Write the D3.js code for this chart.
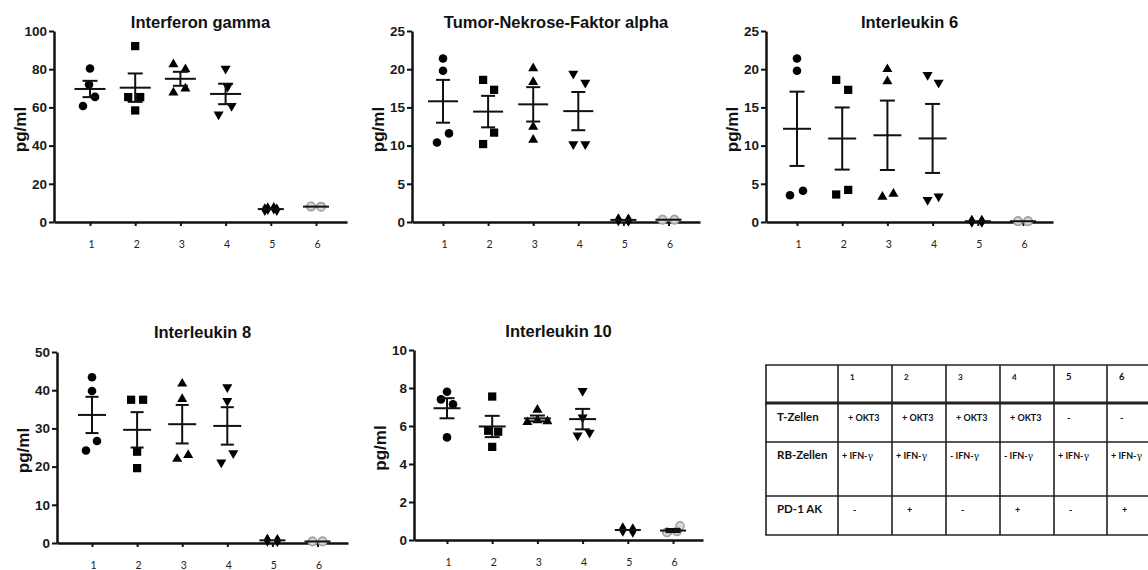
<!DOCTYPE html>
<html>
<head>
<meta charset="utf-8">
<script src="https://cdn.jsdelivr.net/npm/d3@7"></script>
<style>
  body { margin: 0; background: #fff; }
  svg { display: block; }
</style>
</head>
<body>
<script>
// ---------------- DATA ----------------
const categories = ["1", "2", "3", "4", "5", "6"];

const ifnGamma = [[80.4, 72, 65.5, 60.7], [92.1, 65.4, 65.4, 58.4], [82.5, 79.9, 67.7, 69.8], [80.3, 70.8, 60.8, 56.3], [6.5, 7.0, 7.2, 6.4], [8.0, 8.2, 8.1, 7.9]];
const tnfAlpha = [[21.4, 19.8, 11.6, 10.4], [18.6, 17.3, 11.7, 10.2], [20.1, 18.3, 12.45, 10.75], [19.4, 18.25, 10.2, 10.2], [0.3, 0.3, 0.25, 0.25], [0.3, 0.3, 0.3, 0.3]];
const il6 = [[21.4, 19.8, 3.5, 4.1], [18.6, 17.3, 3.6, 4.2], [20, 18.4, 3.3, 3.7], [19.25, 18.25, 2.9, 3.35], [0.1, 0.1, 0.1, 0.1], [0.1, 0.1, 0.1, 0.1]];
const il8 = [[43.4, 39.8, 26.7, 24.2], [37.5, 37.5, 23.9, 19.6], [41.7, 37.7, 22, 23], [40.8, 37.2, 21.1, 23.5], [0.7, 0.8, 0.6, 0.7], [0.4, 0.4, 0.4, 0.4]];
const il10 = [[7.8, 7.4, 7.14, 5.4], [7.55, 5.75, 5.7, 4.9], [6.85, 6.2, 6.3, 6.25], [7.85, 6.45, 5.5, 5.65], [0.5, 0.6, 0.45, 0.55], [0.4, 0.4, 0.74, 0.45]];

const ticksIfn = [0, 20, 40, 60, 80, 100];
const ticksTnf = [0, 5, 10, 15, 20, 25];
const ticksIl6 = [0, 5, 10, 15, 20, 25];
const ticksIl8 = [0, 10, 20, 30, 40, 50];
const ticksIl10 = [0, 2, 4, 6, 8, 10];

const titles = ["Interferon gamma", "Tumor-Nekrose-Faktor alpha", "Interleukin 6", "Interleukin 8", "Interleukin 10"];
const yLabel = "pg/ml";

const tableCols = ["1", "2", "3", "4", "5", "6"];
const tableRows = ["T-Zellen", "RB-Zellen", "PD-1 AK"];
const tableCells = [
  ["+ OKT3", "+ OKT3", "+ OKT3", "+ OKT3", "-", "-"],
  ["+ IFN-γ", "+ IFN-γ", "- IFN-γ", "- IFN-γ", "+ IFN-γ", "+ IFN-γ"],
  ["-", "+", "-", "+", "-", "+"]
];

// ---------------- LAYOUT (positions / styles) ----------------
const jitter = [
  [[0, -1, 5, -7], [0, -7, 5, 0], [-7, 5, -7, 5], [0, 2, 6, -7], [-6, -3, 3, 6], [-5, -5, 5, 5]],
  [[0, 0, 6, -6], [-5, 6, 6, -5], [0, 0, 0, 0], [-5, 7, -5, 7], [-5, -5, 5, 5], [-6, -6, 6, 6]],
  [[0, 0, -7, 6], [-6, 6, -6, 6], [0, 0, -5, 6], [-5, 6, -5, 6], [-6, -6, 4, 4], [-5, -5, 5, 5]],
  [[0, 0, 5, -6], [-6, 6, 0, 0], [0, 0, -5, 6], [0, 0, -6, 6], [-5, -5, 5, 5], [-5, -5, 5, 5]],
  [[0, -6, 6, 0], [0, -4, 6, 0], [0, -10, 0, 10], [0, 0, -5, 7], [-5, -5, 5, 5], [-6, -6, 7, 4]]
];

const panels = [
  { data: ifnGamma, ticks: ticksIfn, axisX: 54, cat1: 90, step: 45.2, axisEnd: 347, top: 31, bottom: 222, titleY: 28, meanW: 31, capW: 15 },
  { data: tnfAlpha, ticks: ticksTnf, axisX: 412, cat1: 443, step: 45.1, axisEnd: 700, top: 31, bottom: 222, titleY: 28, meanW: 30, capW: 14 },
  { data: il6, ticks: ticksIl6, axisX: 766, cat1: 797, step: 45.2, axisEnd: 1053, top: 31, bottom: 222, titleY: 28, meanW: 28, capW: 15 },
  { data: il8, ticks: ticksIl8, axisX: 57, cat1: 92, step: 45.1, axisEnd: 348, top: 352, bottom: 543, titleY: 338, meanW: 28, capW: 13 },
  { data: il10, ticks: ticksIl10, axisX: 414, cat1: 447, step: 45.2, axisEnd: 703, top: 350, bottom: 540, titleY: 337, meanW: 27, capW: 15 }
];

const symbolTypes = [d3.symbolCircle, d3.symbolSquare, d3.symbolTriangle, d3.symbolTriangle, d3.symbolDiamond, d3.symbolCircle];
const symbolSizes = [58, 68, 44, 44, 46, 52];

const W = 1148, H = 570;
const svg = d3.select("body").append("svg").attr("width", W).attr("height", H);

const boldFont = "'Liberation Sans', Arial, sans-serif";
const calFont = "Lato, 'Open Sans', sans-serif";

panels.forEach((p, pi) => {
  const g = svg.append("g");
  const x = d3.scaleLinear().domain([1, 6]).range([p.cat1, p.cat1 + 5 * p.step]);
  const yMax = p.ticks[p.ticks.length - 1];
  const y = d3.scaleLinear().domain([0, yMax]).range([p.bottom, p.top]);

  // y axis
  const ya = g.append("g").attr("transform", `translate(${p.axisX},0)`)
    .call(d3.axisLeft(y).tickValues(p.ticks).tickSize(5).tickSizeOuter(0).tickPadding(2).tickFormat(d3.format("d")));
  ya.select(".domain").attr("stroke", "#111").attr("stroke-width", 2.5);
  ya.selectAll(".tick line").attr("stroke", "#111").attr("stroke-width", 2);
  ya.selectAll(".tick text").attr("font-family", boldFont).attr("font-weight", "bold")
    .attr("font-size", 13.5).attr("fill", "#1a1a1a");

  // x axis
  const xs = d3.scaleLinear().domain([x.invert(p.axisX), x.invert(p.axisEnd)]).range([p.axisX, p.axisEnd]);
  const xa = g.append("g").attr("transform", `translate(0,${p.bottom})`)
    .call(d3.axisBottom(xs).tickValues([1, 2, 3, 4, 5, 6]).tickSize(4).tickSizeOuter(0).tickPadding(15)
      .tickFormat(d => categories[d - 1]));
  xa.select(".domain").attr("stroke", "#111").attr("stroke-width", 2.5);
  xa.selectAll(".tick line").attr("stroke", "#111").attr("stroke-width", 2);
  xa.selectAll(".tick text").attr("font-family", calFont).attr("font-size", 10.5).attr("fill", "#222")
    .attr("dx", 1);

  // title
  g.append("text").attr("x", (p.axisX + p.axisEnd) / 2).attr("y", p.titleY)
    .attr("text-anchor", "middle").attr("font-family", boldFont).attr("font-weight", "bold")
    .attr("font-size", 16.5).attr("fill", "#111").text(titles[pi]);

  // y label
  g.append("text")
    .attr("transform", `translate(${p.axisX - 34},${(p.top + p.bottom) / 2 + 3}) rotate(-90)`)
    .attr("text-anchor", "middle").attr("dominant-baseline", "central")
    .attr("font-family", boldFont).attr("font-weight", "bold").attr("font-size", 17)
    .attr("fill", "#111").text(yLabel);

  // points
  p.data.forEach((vals, gi) => {
    const sym = d3.symbol().type(symbolTypes[gi]).size(symbolSizes[gi]);
    vals.forEach((v, k) => {
      const cx = x(gi + 1) + jitter[pi][gi][k];
      const cy = y(v);
      const rot = gi === 3 ? " rotate(180)" : "";
      const isGrey = gi === 5;
      g.append("path").attr("d", sym())
        .attr("transform", `translate(${cx},${cy})${rot}`)
        .attr("fill", isGrey ? "#d9d9d9" : "#000")
        .attr("stroke", isGrey ? "#a3a3a3" : "none")
        .attr("stroke-width", isGrey ? 1.6 : 0);
    });
  });

  // mean ± SEM
  p.data.forEach((vals, gi) => {
    const m = d3.mean(vals);
    const sem = d3.deviation(vals) / Math.sqrt(vals.length);
    const cx = x(gi + 1);
    const lg = g.append("g").attr("stroke", "#111").attr("stroke-width", 2).attr("fill", "none");
    const mw = gi >= 4 ? 26 : p.meanW;
    lg.append("line").attr("x1", cx - mw / 2).attr("x2", cx + mw / 2).attr("y1", y(m)).attr("y2", y(m));
    if (y(m - sem) - y(m + sem) > 2) {
      lg.append("line").attr("x1", cx).attr("x2", cx).attr("y1", y(m - sem)).attr("y2", y(m + sem));
      [m - sem, m + sem].forEach(v => {
        lg.append("line").attr("x1", cx - p.capW / 2).attr("x2", cx + p.capW / 2).attr("y1", y(v)).attr("y2", y(v));
      });
    }
  });
});

// ---------------- TABLE ----------------
const colX = [766, 838, 892, 946, 1000, 1054, 1107, 1161];
const rowY = [365, 403, 442, 496, 535];
const tg = svg.append("g");
const lineColor = "#222";
colX.forEach(cx => {
  tg.append("line").attr("x1", cx).attr("x2", cx).attr("y1", rowY[0]).attr("y2", rowY[rowY.length - 1])
    .attr("stroke", lineColor).attr("stroke-width", 1.6);
});
rowY.forEach((ry, i) => {
  tg.append("line").attr("x1", colX[0] - 0.8).attr("x2", colX[colX.length - 1]).attr("y1", ry).attr("y2", ry)
    .attr("stroke", lineColor).attr("stroke-width", i === 1 ? 3 : 1.6);
});
tableCols.forEach((c, i) => {
  tg.append("text").attr("x", colX[i + 1] + 12).attr("y", 380)
    .attr("font-family", calFont).attr("font-weight", "bold")
    .attr("font-size", i >= 4 ? 9.5 : 8).attr("fill", "#111").text(c);
});
const rowBase = [421, 459, 513];
tableRows.forEach((r, i) => {
  tg.append("text").attr("x", 777).attr("y", rowBase[i])
    .attr("font-family", calFont).attr("font-weight", "bold").attr("font-size", 11.5)
    .attr("fill", "#111").text(r);
});
const cellOffset = [10, 4, 15];
tableCells.forEach((row, ri) => {
  row.forEach((txt, ci) => {
    const t = tg.append("text").attr("x", colX[ci + 1] + (txt.length === 1 ? (ri === 2 ? 15 : 13) : cellOffset[ri]))
      .attr("y", rowBase[ri])
      .attr("font-family", calFont).attr("font-weight", "bold").attr("font-size", 9).attr("fill", "#111");
    const parts = txt.split("γ");
    t.append("tspan").text(parts[0]);
    if (parts.length > 1) {
      t.append("tspan").attr("font-family", "'DejaVu Serif', serif").attr("font-weight", "normal")
        .attr("font-size", 9.5).text("γ");
    }
  });
});
</script>
</body>
</html>
